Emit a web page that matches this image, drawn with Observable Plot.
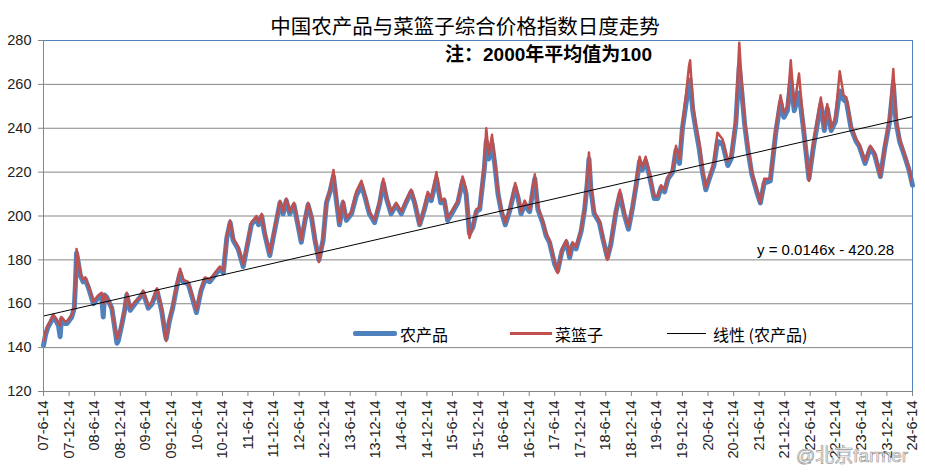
<!DOCTYPE html>
<html><head><meta charset="utf-8">
<script src="https://cdn.jsdelivr.net/npm/d3@7"></script>
<script src="https://cdn.jsdelivr.net/npm/@observablehq/plot@0.6"></script>
<style>
body{margin:0;background:#fff;}
#wrap{position:relative;width:925px;height:476px;overflow:hidden;font-family:"Liberation Sans","Noto Sans CJK SC",sans-serif;}
.ann{position:absolute;white-space:nowrap;color:#000;}
#title{left:0;width:930px;top:12px;text-align:center;font:20.5px "Noto Sans CJK SC";line-height:26px;}
#note{left:445px;top:43px;font:bold 19px "Liberation Sans","Noto Sans CJK SC";line-height:24px;}
#eq{left:757px;top:240px;font:15px "Liberation Sans";line-height:20px;}
.lg{top:324px;font:16px "Noto Sans CJK SC";line-height:20px;}
.sw{position:absolute;}
#wm{left:796px;top:444px;font:19px "Liberation Sans","Noto Sans CJK SC";line-height:24px;color:rgba(255,255,255,0.85);-webkit-text-stroke:0.7px #9a9a9a;}
</style></head><body>
<div id="wrap">
<div id="chart"></div>
<div class="ann" id="title">中国农产品与菜篮子综合价格指数日度走势</div>
<div class="ann" id="note">注：2000年平均值为100</div>
<div class="ann" id="eq">y = 0.0146x - 420.28</div>
<div class="sw" style="left:353px;top:331px;width:44px;height:5px;background:#4f81bd;border-radius:2px"></div>
<div class="ann lg" style="left:400px">农产品</div>
<div class="sw" style="left:510px;top:332px;width:42px;height:2.5px;background:#c0504d"></div>
<div class="ann lg" style="left:555px">菜篮子</div>
<div class="sw" style="left:667px;top:333px;width:39px;height:1px;background:#000"></div>
<div class="ann lg" style="left:713px">线性 (农产品)</div>
<div class="ann" id="wm">@北京farmer</div>
</div>
<script>
// ---- data ----
const dates = [
"2007-06-14","2007-06-29","2007-07-14","2007-08-08","2007-08-23","2007-09-14","2007-09-29","2007-10-11","2007-10-20","2007-11-14","2007-11-29",
"2008-01-02","2008-01-20","2008-01-29","2008-02-05","2008-02-14","2008-03-03","2008-03-23","2008-04-08","2008-05-02","2008-06-05","2008-07-11",
"2008-08-02","2008-08-14","2008-08-23","2008-09-08","2008-10-14","2008-11-02","2008-11-20","2008-11-29","2008-12-23","2009-01-14","2009-01-29",
"2009-02-23","2009-03-29","2009-05-05","2009-05-26","2009-07-02","2009-07-29","2009-09-02","2009-10-05","2009-10-29","2009-11-07","2009-11-29",
"2009-12-23","2010-01-22","2010-02-14","2010-03-07","2010-04-14","2010-05-20","2010-06-11","2010-07-14","2010-08-11","2010-09-14","2010-10-20",
"2010-11-26","2010-12-20","2011-01-14","2011-02-07","2011-02-28","2011-04-05","2011-05-11","2011-06-14","2011-07-08","2011-08-14","2011-08-29",
"2011-09-20","2011-10-11","2011-11-17","2011-12-11","2012-01-29","2012-02-20","2012-03-14","2012-04-08","2012-05-08","2012-06-08","2012-06-29",
"2012-07-23","2012-08-17","2012-09-11","2012-10-05","2012-11-02","2012-12-02","2012-12-26","2013-01-20","2013-02-14","2013-03-07","2013-03-29",
"2013-04-23","2013-05-17","2013-06-23","2013-07-26","2013-09-02","2013-09-26","2013-10-29","2013-12-05","2014-01-11","2014-02-05","2014-02-28",
"2014-04-02","2014-05-08","2014-06-14","2014-07-17","2014-08-23","2014-09-17","2014-10-23","2014-11-26","2014-12-20","2015-01-14","2015-02-20",
"2015-03-23","2015-04-17","2015-05-11","2015-06-17","2015-07-23","2015-08-26","2015-09-20","2015-10-14","2015-11-08","2015-12-02","2015-12-26",
"2016-01-29","2016-02-11","2016-02-29","2016-03-23","2016-04-11","2016-05-05","2016-05-29","2016-06-26","2016-07-26","2016-09-05","2016-09-26",
"2016-10-17","2016-11-11","2016-12-17","2017-01-23","2017-02-14","2017-03-20","2017-04-14","2017-05-08","2017-06-14","2017-07-05","2017-08-05",
"2017-09-05","2017-09-29","2017-10-20","2017-11-14","2017-12-20","2018-01-14","2018-02-02","2018-02-14","2018-02-28","2018-03-23","2018-04-29",
"2018-05-23","2018-06-26","2018-07-20","2018-08-26","2018-09-23","2018-10-23","2018-11-23","2018-12-23","2019-01-17","2019-02-11","2019-03-02",
"2019-03-26","2019-04-20","2019-05-26","2019-06-20","2019-07-14","2019-08-08","2019-09-02","2019-10-05","2019-10-29","2019-11-23","2019-12-14",
"2020-01-08","2020-01-29","2020-02-07","2020-02-26","2020-03-20","2020-04-11","2020-05-05","2020-05-29","2020-06-23","2020-07-26","2020-08-20",
"2020-09-26","2020-11-02","2020-11-26","2020-12-29","2021-01-23","2021-02-11","2021-03-02","2021-03-26","2021-04-23","2021-06-02","2021-06-23",
"2021-07-20","2021-09-02","2021-10-11","2021-11-14","2021-12-08","2022-01-02","2022-01-26","2022-02-20","2022-03-26","2022-04-23","2022-06-05",
"2022-07-08","2022-08-29","2022-09-23","2022-10-14","2022-11-11","2022-12-11","2023-01-11","2023-02-08","2023-02-28","2023-04-02","2023-05-08",
"2023-05-29","2023-07-11","2023-08-17","2023-09-17","2023-10-29","2023-11-29","2024-01-02","2024-01-29","2024-02-17","2024-03-14","2024-04-20",
"2024-05-20","2024-06-14"];

// 农产品 (blue)
const agri = [
141,146,149,152,154,152,150,145,153,151,151,
154,158,170,183,180,173,170,171,167,160,163,
164,154,164,163,158,150,142,143,150,157,164,
157,160,163,165,158,160,166,157,147,144,152,
158,168,174,170,169,161,156,166,171,170,173,
176,174,190,197,189,185,177,188,196,199,196,
200,192,182,190,206,201,207,201,205,195,188,
197,205,199,189,180,189,206,211,218,207,196,
206,198,201,209,214,209,201,197,206,215,208,
201,205,201,206,211,206,196,203,209,207,217,
206,207,198,202,206,216,210,192,195,202,203,
222,234,226,233,224,210,202,196,202,213,208,
201,205,202,217,203,197,191,188,178,175,184,
188,181,187,185,193,203,215,226,212,201,197,
190,181,187,202,210,201,194,204,214,225,221,
225,219,208,208,213,211,217,220,230,224,240,
251,260,262,248,239,231,220,212,217,223,234,
233,223,226,242,268,256,242,230,219,210,206,
215,216,238,252,245,248,262,248,256,242,217,
232,251,239,249,239,243,257,253,252,240,234,
232,224,231,228,218,231,243,260,243,234,227,
221,214];

// 菜篮子 (red)
const basket = [
143,147,150,153,155,153,151,150,154,152,152,
155,159,170,185,182,174,171,172,168,161,164,
165,160,164,163,158,150,144,145,151,158,165,
158,161,163,166,159,161,167,158,146,143,153,
159,169,176,171,170,162,157,167,172,171,174,
177,175,191,198,190,186,178,189,197,200,197,
201,193,183,191,207,202,208,202,206,196,189,
198,206,200,190,179,190,207,212,221,208,197,
207,199,202,211,216,210,202,198,207,217,209,
202,206,202,207,212,207,196,204,211,208,220,
207,208,199,203,207,218,212,190,196,203,204,
225,240,228,237,226,211,203,197,203,215,209,
202,207,203,219,204,198,192,189,179,174,185,
189,182,188,186,194,204,218,229,214,202,198,
191,180,188,203,212,202,195,205,215,227,222,
227,220,209,209,214,212,218,221,232,226,242,
255,268,271,251,241,234,222,213,218,225,238,
235,225,228,244,279,259,244,232,220,211,206,
217,217,240,255,247,250,271,250,265,244,216,
234,254,240,251,240,245,266,255,254,241,235,
233,225,232,229,218,232,245,267,245,235,228,
222,214];

// linear trend of 农产品 (endpoints)
const trendDates = ["2007-06-14", "2024-06-14"];
const trendValues = [154.4, 245.3];

const xTickLabels = ["07-6-14","07-12-14","08-6-14","08-12-14","09-6-14","09-12-14","10-6-14","10-12-14",
"11-6-14","11-12-14","12-6-14","12-12-14","13-6-14","13-12-14","14-6-14","14-12-14","15-6-14","15-12-14",
"16-6-14","16-12-14","17-6-14","17-12-14","18-6-14","18-12-14","19-6-14","19-12-14","20-6-14","20-12-14",
"21-6-14","21-12-14","22-6-14","22-12-14","23-6-14","23-12-14","24-6-14"];
const yTicks = [120,140,160,180,200,220,240,260,280];

// ---- build ----
const parse = d3.utcParse("%Y-%m-%d");
const rows = dates.map((d, i) => ({date: parse(d), agri: agri[i], basket: basket[i]}));
const trendRows = trendDates.map((d, i) => ({date: parse(d), v: trendValues[i]}));
const tickDates = xTickLabels.map(s => { const [y, m, d] = s.split("-").map(Number); return new Date(Date.UTC(2000 + y, m - 1, d)); });
const labelOf = new Map(tickDates.map((d, i) => [+d, xTickLabels[i]]));
const x0 = tickDates[0], x1 = tickDates[tickDates.length - 1];

const chart = Plot.plot({
  width: 925, height: 476,
  marginTop: 40, marginLeft: 43, marginRight: 13, marginBottom: 85,
  style: {fontFamily: "Liberation Sans", fontSize: "14.5px", color: "#222", background: "#fff", overflow: "visible"},
  x: {type: "utc", domain: [x0, x1]},
  y: {domain: [120, 280]},
  marks: [
    Plot.gridY(yTicks.filter(v => v > 120), {stroke: "#868686", strokeOpacity: 1, strokeWidth: 1}),
    Plot.lineY(rows, {x: "date", y: "agri", stroke: "#4f81bd", strokeWidth: 5, strokeLinejoin: "round"}),
    Plot.lineY(rows, {x: "date", y: "basket", stroke: "#c0504d", strokeWidth: 2.5, strokeLinejoin: "round"}),
    Plot.line(trendRows, {x: "date", y: "v", stroke: "#000", strokeWidth: 1}),
    Plot.ruleY([280], {stroke: "#4f81bd", strokeWidth: 1}),
    Plot.ruleX([x1], {stroke: "#4f81bd", strokeWidth: 1}),
    Plot.ruleY([120], {stroke: "#868686", strokeWidth: 1}),
    Plot.ruleX([x0], {stroke: "#868686", strokeWidth: 1}),
    Plot.axisY(yTicks, {tickSize: 5, tickPadding: 7, stroke: "#868686", fill: "#222", label: null}),
    Plot.axisX(tickDates, {tickSize: 5, tickPadding: 4, tickRotate: -90, stroke: "#868686", fill: "#222",
      tickFormat: d => labelOf.get(+d), label: null})
  ]
});
document.getElementById("chart").appendChild(chart);
</script>
</body></html>
